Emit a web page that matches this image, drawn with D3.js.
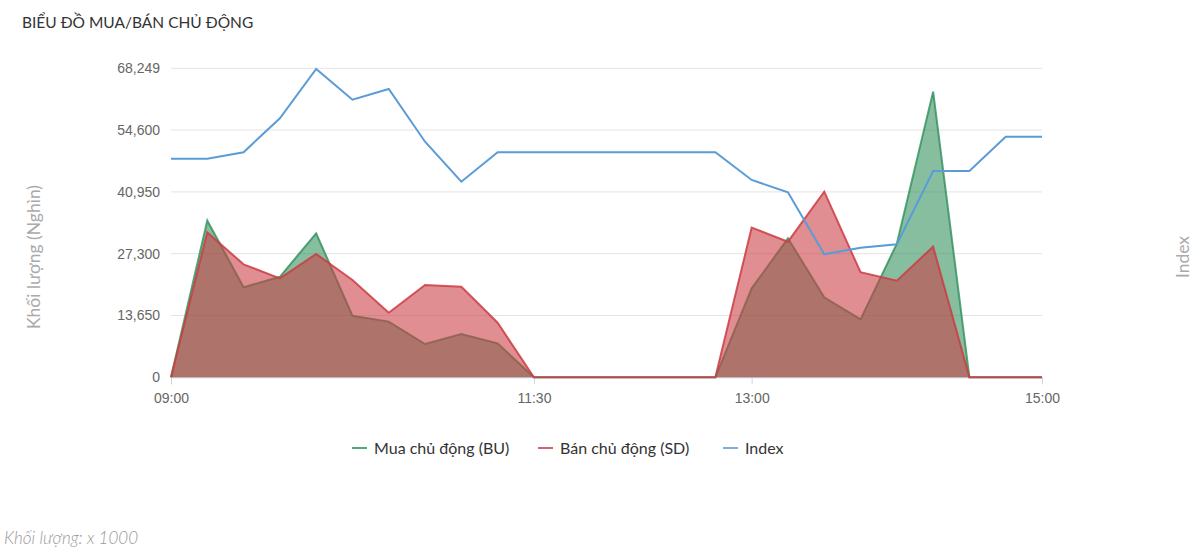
<!DOCTYPE html>
<html>
<head>
<meta charset="utf-8">
<script src="https://cdn.jsdelivr.net/npm/d3@7"></script>
<style>
  body { margin: 0; background: #fff; }
  svg text { font-family: Lato, "Open Sans", sans-serif; }
  .axis text { font-family: "Liberation Sans", Arial, sans-serif; font-size: 14px; fill: #666; }
</style>
</head>
<body>
<svg width="1200" height="557"></svg>
<script>
// thoi gian, 15 phut mot diem
const TIMES = ['09:00','09:15','09:30','09:45','10:00','10:15','10:30','10:45','11:00','11:15','11:30','11:45',
               '12:00','12:15','12:30','12:45','13:00','13:15','13:30','13:45','14:00','14:15','14:30','14:45','15:00'];
// Mua chu dong (BU), x1000
const BU = [0, 34600, 19900, 22200, 31800, 13600, 12300, 7350, 9550, 7500, 0, 0,
            0, 0, 0, 0, 19650, 30700, 17650, 12800, 29500, 63100, 0, 0, 0];
// Ban chu dong (SD), x1000
const SD = [0, 32000, 24950, 21850, 27250, 21500, 14250, 20400, 20000, 12050, 0, 0,
            0, 0, 0, 0, 33050, 29950, 41000, 23200, 21350, 28850, 0, 0, 0];
// Index
const INDEX = [1271.22, 1271.22, 1271.85, 1275.15, 1279.93, 1276.95, 1277.99, 1272.87, 1268.99, 1271.85, 1271.85, 1271.85,
               1271.85, 1271.85, 1271.85, 1271.85, 1269.16, 1267.96, 1261.94, 1262.58, 1262.91, 1270.03, 1270.03, 1273.36, 1273.36];
const Y_TICKS = [0, 13650, 27300, 40950, 54600, 68249];
const X_TICKS = ['09:00', '11:30', '13:00', '15:00'];
const LEGEND = ['Mua chủ động (BU)', 'Bán chủ động (SD)', 'Index'];

const parseT = d3.timeParse('%H:%M');
const rows = TIMES.map((t, i) => ({t: parseT(t), bu: BU[i], sd: SD[i], idx: INDEX[i]}));

const svg = d3.select('svg');
const plotL = 171, plotR = 1042, plotT = 68.3, plotB = 377.3;

const x = d3.scaleTime().domain([parseT('09:00'), parseT('15:00')]).range([plotL, plotR]);
const y = d3.scaleLinear().domain([0, 68249]).range([plotB, plotT]);
const yIdx = d3.scaleLinear().domain([1250, 1280]).range([plotB, plotT]);   // truc phu, an

// luoi ngang
svg.append('g').selectAll('line').data(Y_TICKS).enter().append('line')
   .attr('x1', plotL).attr('x2', plotR)
   .attr('y1', d => y(d)).attr('y2', d => y(d))
   .attr('stroke', '#e3e3e3').attr('stroke-width', 1);

// truc y
svg.append('g').attr('class', 'axis').attr('transform', `translate(${plotL},0)`)
   .call(d3.axisLeft(y).tickValues(Y_TICKS).tickFormat(d3.format(',')).tickSize(0).tickPadding(11))
   .call(g => g.select('.domain').remove());

// truc x
svg.append('g').attr('class', 'axis').attr('transform', `translate(0,${plotB})`)
   .call(d3.axisBottom(x).tickValues(X_TICKS.map(parseT)).tickFormat(d3.timeFormat('%H:%M')).tickSize(7).tickPadding(9))
   .call(g => g.select('.domain').attr('stroke', '#ccd6eb'))
   .call(g => g.selectAll('.tick line').attr('stroke', '#ccd6eb'));

const area = key => d3.area().x(d => x(d.t)).y0(y(0)).y1(d => y(d[key]));
const line = key => d3.line().x(d => x(d.t)).y(d => y(d[key]));

const GREEN = '#2f8f5a', RED = '#cb3c43', BLUE = '#5b9bd8';

svg.append('path').datum(rows).attr('d', area('bu')).attr('fill', GREEN).attr('fill-opacity', 0.58);
svg.append('path').datum(rows).attr('d', line('bu')).attr('fill', 'none').attr('stroke', GREEN).attr('stroke-width', 2).attr('stroke-opacity', 0.8);
svg.append('path').datum(rows).attr('d', area('sd')).attr('fill', RED).attr('fill-opacity', 0.58);
svg.append('path').datum(rows).attr('d', line('sd')).attr('fill', 'none').attr('stroke', RED).attr('stroke-width', 2).attr('stroke-opacity', 0.85);

svg.append('path').datum(rows)
   .attr('d', d3.line().x(d => x(d.t)).y(d => yIdx(d.idx)))
   .attr('fill', 'none').attr('stroke', BLUE).attr('stroke-width', 2);

// tieu de
svg.append('text').attr('x', 22).attr('y', 28).attr('font-size', 15.5).attr('fill', '#333')
   .text('BIỂU ĐỒ MUA/BÁN CHỦ ĐỘNG');

svg.append('text').attr('transform', 'translate(40,257) rotate(-90)').attr('text-anchor', 'middle')
   .attr('font-size', 17.5).attr('fill', '#aaa').text('Khối lượng (Nghìn)');
svg.append('text').attr('transform', 'translate(1189,257) rotate(-90)').attr('text-anchor', 'middle')
   .attr('font-size', 17.5).attr('fill', '#aaa').text('Index');

// chu giai
const legendX = [352, 538, 723];
const lg = svg.append('g').selectAll('g').data(LEGEND).enter().append('g')
   .attr('transform', (d, i) => `translate(${legendX[i]},448)`);
lg.append('line').attr('x1', 0).attr('x2', 15).attr('y1', 0).attr('y2', 0)
  .attr('stroke', (d, i) => [GREEN, RED, BLUE][i]).attr('stroke-width', 2).attr('stroke-opacity', 0.8);
lg.append('text').attr('x', 22).attr('y', 6).attr('font-size', 16).attr('fill', '#333').text(d => d);

svg.append('text').attr('x', 4).attr('y', 544).attr('font-size', 17).attr('font-style', 'italic')
   .attr('font-weight', 300).attr('fill', '#999').text('Khối lượng: x 1000');
</script>
</body>
</html>
